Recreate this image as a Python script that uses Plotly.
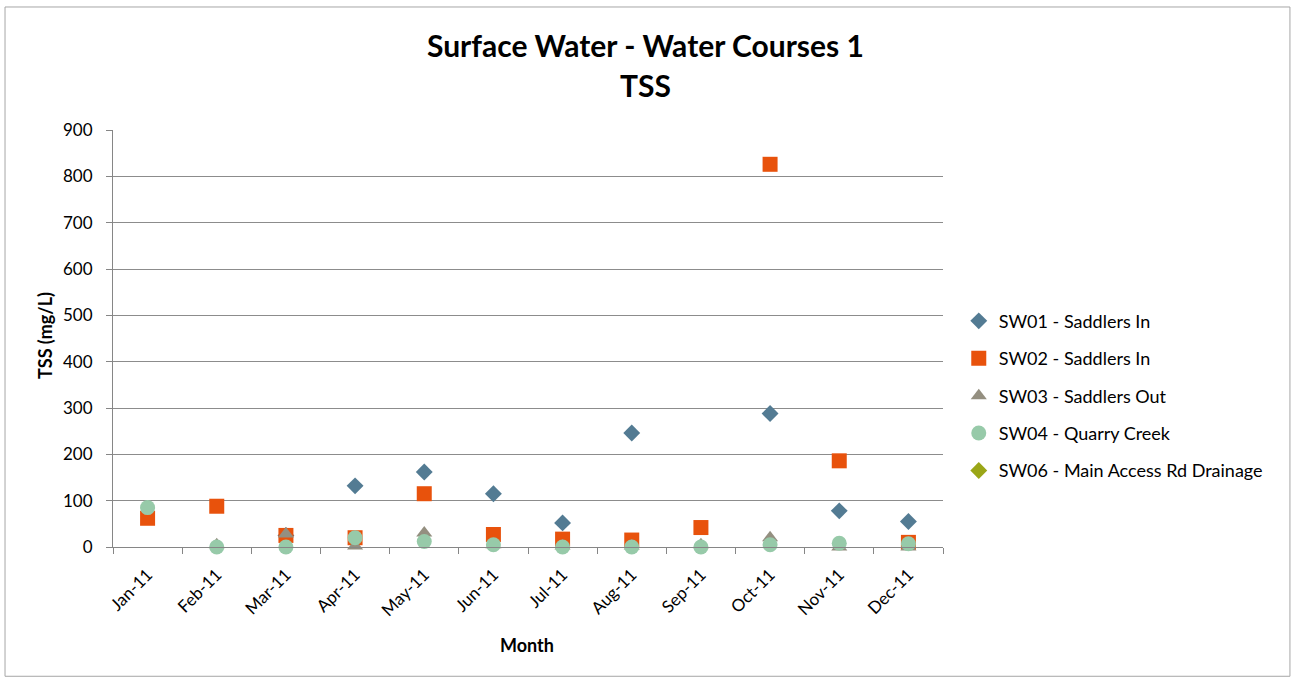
import plotly.graph_objects as go

months = ["Jan-11", "Feb-11", "Mar-11", "Apr-11", "May-11", "Jun-11",
          "Jul-11", "Aug-11", "Sep-11", "Oct-11", "Nov-11", "Dec-11"]

sw01 = [None, None, 25, 132, 162, 115, 52, 246, None, 288, 78, 55]
sw02 = [62, 88, 25, 20, 115, 27, 17, 15, 42, 826, 186, 10]
sw03 = [None, 5, 28, 2, 30, 5, 2, 2, 5, 20, 0, 0]
sw04 = [85, 0, 0, 20, 12, 5, 0, 0, 0, 5, 8, 7]
sw06 = [None] * 12

y_ticks = [0, 100, 200, 300, 400, 500, 600, 700, 800, 900]

FONT = "Lato, 'Open Sans', sans-serif"

series = [
    ("SW01 - Saddlers In", sw01, "diamond", "#537B93", 13),
    ("SW02 - Saddlers In", sw02, "square", "#E8520C", 15),
    ("SW03 - Saddlers Out", sw03, "triangle-up", "#948F80", 14),
    ("SW04 - Quarry Creek", sw04, "circle", "#97CAA9", 15),
    ("SW06 - Main Access Rd Drainage", sw06, "diamond", "#9AA617", 13),
]

fig = go.Figure()
for i, (name, vals, sym, col, size) in enumerate(series):
    fig.add_trace(go.Scatter(
        x=months, y=vals, mode="markers", name=name,
        legendgroup=f"g{i}",
        marker=dict(symbol=sym, color=col, size=size, line=dict(width=0)),
        cliponaxis=False,
    ))

annotations = [
    dict(text="<b>Surface Water - Water Courses 1</b>", xref="paper", yref="paper",
         x=0.641, y=1.2038, xanchor="center", yanchor="middle", showarrow=False,
         font=dict(family=FONT, size=30, color="#000000")),
    dict(text="<b>TSS</b>", xref="paper", yref="paper",
         x=0.641, y=1.108, xanchor="center", yanchor="middle", showarrow=False,
         font=dict(family=FONT, size=30, color="#000000")),
    dict(text="<b>Month</b>", xref="paper", yref="paper",
         x=0.499, y=-0.235, xanchor="center", yanchor="middle", showarrow=False,
         font=dict(family=FONT, size=18, color="#000000")),
    dict(text="<b>TSS (mg/L)</b>", xref="paper", yref="paper", textangle=-90,
         x=-0.0819, y=0.506, xanchor="center", yanchor="middle", showarrow=False,
         font=dict(family=FONT, size=18, color="#000000")),
]

fig.update_layout(
    width=1297, height=677,
    margin=dict(l=113, r=354, t=130, b=130),
    paper_bgcolor="white", plot_bgcolor="white",
    font=dict(family=FONT, size=16, color="#000000"),
    annotations=annotations,
    legend=dict(
        x=1.019, xanchor="left", y=0.363, yanchor="middle",
        font=dict(family=FONT, size=18, color="#000000"),
        tracegroupgap=11, bgcolor="rgba(0,0,0,0)",
        itemwidth=30,
    ),
    xaxis=dict(
        type="category", tickangle=-45, tickson="boundaries",
        ticks="outside", ticklen=6, tickcolor="#868686",
        showline=True, linecolor="#868686", linewidth=1,
        showgrid=False, tickfont=dict(size=17),
        ticklabelstandoff=10,
        range=[-0.5, 11.5],
    ),
    yaxis=dict(
        range=[0, 900], tickvals=y_ticks,
        ticks="outside", ticklen=6, tickcolor="#868686",
        showline=True, linecolor="#868686", linewidth=1,
        showgrid=True, gridcolor="#8C8C8C", gridwidth=1,
        zeroline=False, tickfont=dict(size=17),
        ticklabelstandoff=10,
    ),
    shapes=[dict(
        type="rect", xref="paper", yref="paper",
        x0=-0.1301, x1=1.418, y0=-0.31, y1=1.295,
        line=dict(color="#A6A6A6", width=1), fillcolor="rgba(0,0,0,0)",
        layer="below",
    )],
)

fig.write_html("out.html")
